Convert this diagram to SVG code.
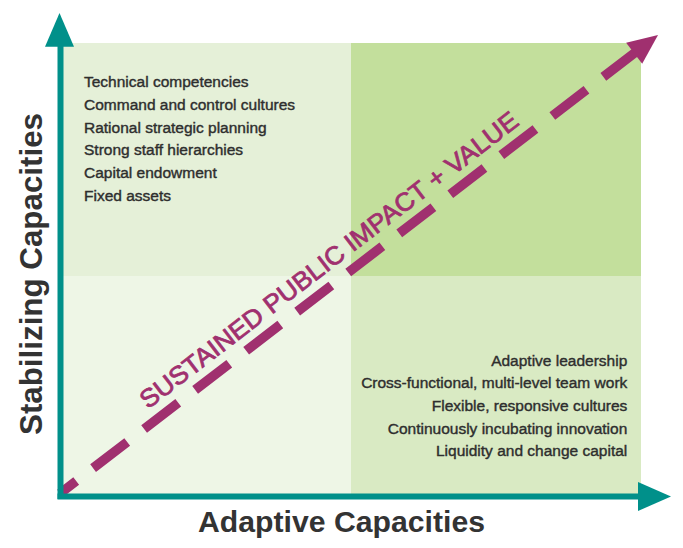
<svg xmlns="http://www.w3.org/2000/svg" width="683" height="548" viewBox="0 0 683 548">
  <style>
    .list { font-family: "Liberation Sans", Arial, sans-serif; font-size: 15.5px; fill: #2e2e2e; stroke: #2e2e2e; stroke-width: 0.4px; }
    .axis-label { font-family: "Liberation Sans", Arial, sans-serif; font-weight: bold; fill: #333333; }
    .axis { stroke: #00908a; stroke-width: 6; fill: none; }
    .axis-head { fill: #00908a; }
    .diag { stroke: #a0306f; stroke-width: 9.5; fill: none; stroke-dasharray: 43 21.3; stroke-dashoffset: 22.6; }
    .diag-head { fill: #a0306f; }
    .diag-label { font-family: "Liberation Sans", Arial, sans-serif; font-size: 25.5px; fill: #a0306f; stroke: #a0306f; stroke-width: 0.8px; }
  </style>
  <rect width="683" height="548" fill="#ffffff"/>

  <g id="quadrant-top-left">
    <rect x="63" y="43" width="288" height="233" fill="#e5f0d8"/>
    <text class="list" x="84" y="87.3">Technical competencies</text>
    <text class="list" x="84" y="110">Command and control cultures</text>
    <text class="list" x="84" y="132.7">Rational strategic planning</text>
    <text class="list" x="84" y="155.3">Strong staff hierarchies</text>
    <text class="list" x="84" y="178">Capital endowment</text>
    <text class="list" x="84" y="200.7">Fixed assets</text>
  </g>
  <g id="quadrant-top-right">
    <rect x="351" y="43" width="290" height="233" fill="#c3df9c"/>
  </g>
  <g id="quadrant-bottom-left">
    <rect x="63" y="276" width="288" height="218" fill="#eef6e6"/>
  </g>
  <g id="quadrant-bottom-right">
    <rect x="351" y="276" width="290" height="218" fill="#d9eac3"/>
    <g text-anchor="end">
      <text class="list" x="627.3" y="365.7">Adaptive leadership</text>
      <text class="list" x="627.3" y="388.3">Cross-functional, multi-level team work</text>
      <text class="list" x="627.3" y="411">Flexible, responsive cultures</text>
      <text class="list" x="627.3" y="433.6">Continuously incubating innovation</text>
      <text class="list" x="627.3" y="456.2">Liquidity and change capital</text>
    </g>
  </g>

  <g id="connectors">
    <g id="diagonal" transform="translate(60,493.5) rotate(-37.48)">
      <line class="diag" x1="0" y1="0" x2="726" y2="0"/>
      <polygon class="diag-head" points="753.6,0 723.5,-13.2 723.5,13.2"/>
      <text class="diag-label" x="121" y="-13" textLength="469" lengthAdjust="spacingAndGlyphs">SUSTAINED PUBLIC IMPACT + VALUE</text>
    </g>
    <g id="y-axis">
      <line class="axis" x1="60.5" y1="45" x2="60.5" y2="499"/>
      <polygon class="axis-head" points="59.5,13 45,46.7 74,46.7"/>
    </g>
    <g id="x-axis">
      <line class="axis" x1="57.5" y1="496.5" x2="640" y2="496.5"/>
      <polygon class="axis-head" points="671,496.5 638,482 638,511"/>
    </g>
  </g>

  <g id="label-x">
    <text class="axis-label" x="198" y="531.5" font-size="29" textLength="287" lengthAdjust="spacingAndGlyphs">Adaptive Capacities</text>
  </g>
  <g id="label-y">
    <text class="axis-label" transform="translate(41.7,435) rotate(-90)" x="0" y="0" font-size="31.5" textLength="322" lengthAdjust="spacingAndGlyphs">Stabilizing Capacities</text>
  </g>
</svg>
